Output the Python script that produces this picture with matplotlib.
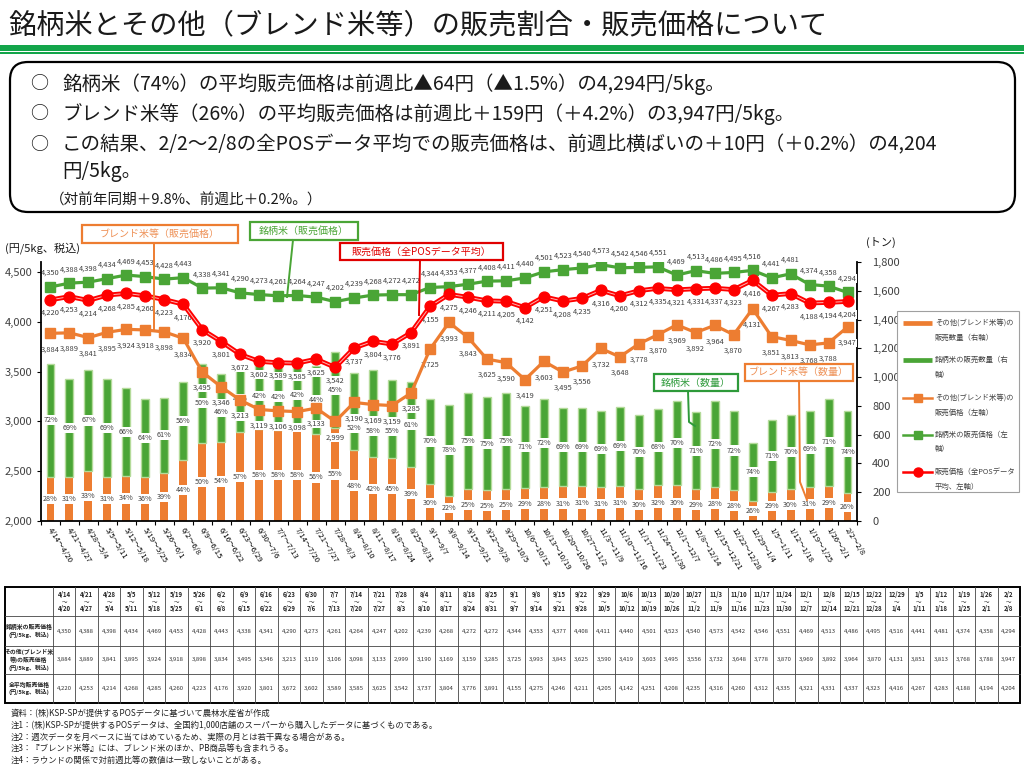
import numpy as np
import matplotlib
matplotlib.use('Agg')
import matplotlib.pyplot as plt
from matplotlib.patches import FancyBboxPatch, Rectangle
import matplotlib.transforms as mtransforms

plt.rcParams['font.family'] = ['Noto Sans CJK JP', 'DejaVu Sans']

# ---------------- data ----------------
week_start = ['4/14', '4/21', '4/28', '5/5', '5/12', '5/19', '5/26', '6/2', '6/9', '6/16', '6/23',
              '6/30', '7/7', '7/14', '7/21', '7/28', '8/4', '8/11', '8/18', '8/25', '9/1', '9/8',
              '9/15', '9/22', '9/29', '10/6', '10/13', '10/20', '10/27', '11/3', '11/10', '11/17',
              '11/24', '12/1', '12/8', '12/15', '12/22', '12/29', '1/5', '1/12', '1/19', '1/26', '2/2']
week_end = ['4/20', '4/27', '5/4', '5/11', '5/18', '5/25', '6/1', '6/8', '6/15', '6/22', '6/29',
            '7/6', '7/13', '7/20', '7/27', '8/3', '8/10', '8/17', '8/24', '8/31', '9/7', '9/14',
            '9/21', '9/28', '10/5', '10/12', '10/19', '10/26', '11/2', '11/9', '11/16', '11/23',
            '11/30', '12/7', '12/14', '12/21', '12/28', '1/4', '1/11', '1/18', '1/25', '2/1', '2/8']

brand_price = [4350, 4388, 4398, 4434, 4469, 4453, 4428, 4443, 4338, 4341, 4290, 4273, 4261, 4264,
               4247, 4202, 4239, 4268, 4272, 4272, 4344, 4353, 4377, 4408, 4411, 4440, 4501, 4523,
               4540, 4573, 4542, 4546, 4551, 4469, 4513, 4486, 4495, 4516, 4441, 4481, 4374, 4358, 4294]
blend_price = [3884, 3889, 3841, 3895, 3924, 3918, 3898, 3834, 3495, 3346, 3213, 3119, 3106, 3098,
               3133, 2999, 3190, 3169, 3159, 3285, 3725, 3993, 3843, 3625, 3590, 3419, 3603, 3495,
               3556, 3732, 3648, 3778, 3870, 3969, 3892, 3964, 3870, 4131, 3851, 3813, 3768, 3788, 3947]
all_price = [4220, 4253, 4214, 4268, 4285, 4260, 4223, 4176, 3920, 3801, 3672, 3602, 3589, 3585,
             3625, 3542, 3737, 3804, 3776, 3891, 4155, 4275, 4246, 4211, 4205, 4142, 4251, 4208,
             4235, 4316, 4260, 4312, 4335, 4321, 4331, 4337, 4323, 4416, 4267, 4283, 4188, 4194, 4204]

# sales volume (tons)
blend_vol = [306, 307, 347, 307, 313, 306, 334, 426, 545, 550, 616, 638, 635, 641, 605, 647, 493,
             442, 441, 376, 255, 177, 223, 215, 222, 231, 238, 243, 244, 238, 246, 221, 249, 251,
             219, 234, 214, 141, 204, 222, 237, 246, 198]
brand_vol = [787, 683, 704, 683, 608, 543, 522, 542, 545, 469, 464, 462, 460, 464, 475, 530, 534,
             610, 538, 589, 596, 628, 668, 645, 666, 566, 611, 540, 544, 529, 549, 516, 530, 584,
             537, 603, 551, 403, 501, 518, 526, 603, 565]
blend_share = [28, 31, 33, 31, 34, 36, 39, 44, 50, 54, 57, 58, 58, 58, 56, 55, 48, 42, 45, 39, 30,
               22, 25, 25, 25, 29, 28, 31, 31, 31, 31, 30, 32, 30, 29, 28, 28, 26, 29, 30, 31, 29, 26]
brand_share = [72, 69, 67, 69, 66, 64, 61, 56, 50, 46, 43, 42, 42, 42, 44, 45, 52, 58, 55, 61, 70,
               78, 75, 75, 75, 71, 72, 69, 69, 69, 69, 70, 68, 70, 71, 72, 72, 74, 71, 70, 69, 71, 74]

# ---------------- styles ----------------
GREEN = '#4AA536'
GREEN_EDGE = '#B4DB9A'
ORANGE = '#ED7D31'
RED = '#FF0000'
TXT = '#404040'

W, H = 1024, 768
fig = plt.figure(figsize=(W / 100, H / 100), dpi=100)
fig.patch.set_facecolor('white')


def fx(px):
    return px / W


def fy(py):
    return 1 - py / H


ax_l, ax_r, ax_t, ax_b = 41, 857, 262, 521
ax = fig.add_axes([fx(ax_l), fy(ax_b), (ax_r - ax_l) / W, (ax_b - ax_t) / H])
ax2 = ax.twinx()
ax.set_zorder(3)
ax.patch.set_visible(False)
ax2.set_zorder(2)

n = len(week_start)
x = np.arange(n)

# bars (right axis)
bw = 0.42
ax2.bar(x, blend_vol, width=bw, color=ORANGE, zorder=2)
ax2.bar(x, brand_vol, bottom=blend_vol, width=bw, color=GREEN, edgecolor=GREEN_EDGE,
        linewidth=1.0, zorder=2)
pct_texts = []
for i in range(n):
    t1 = ax2.text(x[i], blend_vol[i] / 2, f"{blend_share[i]}%", ha='center', va='center',
                  fontsize=5.2, color=TXT, zorder=4,
                  bbox=dict(boxstyle='square,pad=0.15', fc='white', ec='none'))
    t2 = ax2.text(x[i], blend_vol[i] + brand_vol[i] / 2, f"{brand_share[i]}%", ha='center',
                  va='center', fontsize=5.2, color=TXT, zorder=4,
                  bbox=dict(boxstyle='square,pad=0.15', fc='white', ec='none'))
    pct_texts += [t1, t2]
ax2.set_ylim(0, 1800)
ax2.set_yticks(range(0, 1801, 200))
ax2.set_yticklabels([f"{v:,}" for v in range(0, 1801, 200)])

# price lines (left axis)
lab_kw = dict(textcoords='offset points', ha='center', va='center', fontsize=5.4, color=TXT,
              zorder=2.5, bbox=dict(boxstyle='square,pad=0.05', fc='white', ec='none'))
ax.plot(x, brand_price, color=GREEN, lw=2.3, marker='s', ms=6.5, zorder=4)
ax.plot(x, blend_price, color=ORANGE, lw=2.3, marker='s', ms=6.5, zorder=4)
ax.plot(x, all_price, color=RED, lw=3.4, zorder=5)
ax.plot(x, all_price, color='#FFB3B3', lw=0.7, zorder=5.1)
ax.plot(x, all_price, color=RED, lw=0, marker='o', ms=7.8, zorder=5.2)
price_labels = []
for i in range(n):
    price_labels.append(ax.annotate(f"{brand_price[i]:,}", (x[i], brand_price[i]),
                                    xytext=(0, 10), **lab_kw))
    price_labels.append(ax.annotate(f"{all_price[i]:,}", (x[i], all_price[i]),
                                    xytext=(0, -9.5), **lab_kw))
    price_labels.append(ax.annotate(f"{blend_price[i]:,}", (x[i], blend_price[i]),
                                    xytext=(0, -11.5), **lab_kw))

ax.set_ylim(2000, 4600)
ax.set_yticks(range(2000, 4501, 500))
ax.set_yticklabels([f"{v:,}" for v in range(2000, 4501, 500)])
ax.set_xlim(-0.5, n - 0.5)
ax.set_xticks(np.arange(n + 1) - 0.5)
ax.set_xticklabels([])
ax.tick_params(axis='x', length=3, width=0.8, direction='out', color='black')
ax.tick_params(axis='y', length=3, width=0.8, labelsize=8, labelcolor=TXT, pad=3)
ax2.tick_params(axis='y', length=3, width=0.8, labelsize=8, labelcolor=TXT, pad=8)

for a in (ax, ax2):
    a.spines['top'].set_visible(False)
ax.spines['right'].set_visible(False)
ax2.spines['left'].set_visible(False)
ax2.spines['bottom'].set_visible(False)
ax.spines['left'].set_linewidth(1.3)
ax.spines['bottom'].set_linewidth(1.3)
ax2.spines['right'].set_linewidth(1.3)

# category labels
trans = mtransforms.blended_transform_factory(ax.transData, ax.transAxes)
for i in range(n):
    ax.text(x[i] - 0.05, -0.03, f"{week_start[i]}～{week_end[i]}", transform=trans,
            rotation=-58, rotation_mode='anchor', ha='left', va='center', fontsize=5.6,
            color='black', clip_on=False)

# nudge share labels downward where they collide with price labels (as in the reference)
fig.canvas.draw()
renderer = fig.canvas.get_renderer()
pboxes = [p.get_window_extent(renderer).expanded(1.05, 1.1) for p in price_labels]
px_per_ton = (ax_b - ax_t) / 1800.0
for t in pct_texts:
    for step in range(30):
        bb = t.get_window_extent(renderer).expanded(1.1, 1.15)
        if not any(bb.overlaps(pb) for pb in pboxes):
            break
        xx, yy = t.get_position()
        t.set_position((xx, yy - 1.0 / px_per_ton))

# ---------------- overlay (pixel coords) ----------------
ov = fig.add_axes([0, 0, 1, 1])
ov.set_xlim(0, W)
ov.set_ylim(H, 0)
ov.axis('off')
ov.set_zorder(10)
ov.patch.set_visible(False)

# title
ov.text(8, 25, '銘柄米とその他（ブレンド米等）の販売割合・販売価格について', fontsize=20.3,
        ha='left', va='center', color='#1a1a1a')
ov.add_patch(Rectangle((0, 45), W, 5.5, color='#13A54A', lw=0))
ov.add_patch(Rectangle((0, 52.3), W, 1.4, color='#13A54A', lw=0))

# summary box
ov.add_patch(FancyBboxPatch((10, 62), 1005, 150, boxstyle='round,pad=0,rounding_size=18',
                            fc='white', ec='black', lw=1.6))
bullets = [
    (84, '銘柄米（74%）の平均販売価格は前週比▲64円（▲1.5%）の4,294円/5kg。'),
    (114, 'ブレンド米等（26%）の平均販売価格は前週比＋159円（＋4.2%）の3,947円/5kg。'),
    (145, 'この結果、2/2～2/8の全POSデータ平均での販売価格は、前週比横ばいの＋10円（＋0.2%）の4,204'),
]
for yy, t in bullets:
    ov.text(30, yy, '○', fontsize=13, ha='left', va='center', color='#1a1a1a')
    ov.text(62, yy, t, fontsize=14.0, ha='left', va='center', color='#1a1a1a')
ov.text(62, 172, '円/5kg。', fontsize=14.0, ha='left', va='center', color='#1a1a1a')
ov.text(50, 200, '（対前年同期＋9.8%、前週比＋0.2%。）', fontsize=10.5, ha='left', va='center',
        color='#1a1a1a')

# axis titles
ov.text(5, 248, '(円/5kg、税込)', fontsize=8, ha='left', va='center', color='#1a1a1a')
ov.text(866, 242, '(トン)', fontsize=8, ha='left', va='center', color='#1a1a1a')


# callouts
def callout(x0, y0, x1, y1, text, ec, tc, line_pts):
    ov.add_patch(Rectangle((x0, y0), x1 - x0, y1 - y0, fc='white', ec=ec, lw=1.6))
    ov.text((x0 + x1) / 2, (y0 + y1) / 2, text, fontsize=7.2, ha='center', va='center', color=tc)
    xs, ys = zip(*line_pts)
    ov.plot(xs, ys, color=ec, lw=1.4)


callout(82, 225, 238, 243, 'ブレンド米等（販売価格）', ORANGE, '#EE9157', [(154, 243), (154, 331)])
callout(250, 222, 358, 240, '銘柄米（販売価格）', GREEN, GREEN, [(293, 240), (287, 297)])
callout(340, 243, 503, 260, '販売価格（全POSデータ平均）', '#E00000', '#E00000', [(420, 260), (419, 315)])
callout(654, 374, 738, 391, '銘柄米（数量）', '#2E9A3A', '#2E9A3A', [(688, 391), (689, 422), (695, 426)])
callout(745, 364, 853, 381, 'ブレンド米等（数量）', ORANGE, '#EE9157',
        [(799, 381), (800, 482), (807, 500)])

# legend
ov.add_patch(Rectangle((897, 311), 122, 181, fc='white', ec='#A0A0A0', lw=0.8))
leg = [
    (323, 'bar', ORANGE, ['その他(ブレンド米等)の', '販売数量（右軸）']),
    (360, 'bar', GREEN, ['銘柄米の販売数量（右', '軸）']),
    (398, 's', ORANGE, ['その他(ブレンド米等)の', '販売価格（左軸）']),
    (435, 's', GREEN, ['銘柄米の販売価格（左', '軸）']),
    (472, 'o', RED, ['販売価格（全POSデータ', '平均、左軸）']),
]
for yy, kind, c, lines in leg:
    if kind == 'bar':
        ov.plot([903, 932], [yy, yy], color=c, lw=3.4, solid_capstyle='butt')
    else:
        ov.plot([903, 932], [yy, yy], color=c, lw=1.8)
        ov.plot([917.5], [yy], color=c, marker=kind, ms=6 if kind == 's' else 6.5, lw=0)
    for k, t in enumerate(lines):
        ov.text(935, yy + k * 14.5, t, fontsize=5.3, ha='left', va='center', color=TXT)

# table
tx0, tx1 = 5, 1020
col0 = 53
cw = (tx1 - col0) / n
rows_y = [587, 616, 646, 674, 703]
for yy in rows_y[1:-1]:
    ov.plot([tx0, tx1], [yy, yy], color='#444444', lw=0.6)
for i in range(n):
    xx = col0 + i * cw
    ov.plot([xx, xx], [rows_y[0], rows_y[-1]], color='#444444', lw=0.6)
ov.add_patch(Rectangle((tx0, rows_y[0]), tx1 - tx0, rows_y[-1] - rows_y[0], fill=False,
                       ec='black', lw=1.4))
for i in range(n):
    cx = col0 + (i + 0.5) * cw
    ov.text(cx, 594.5, week_start[i], fontsize=4.3, ha='center', va='center', color='#222222',
            fontweight='bold')
    ov.text(cx, 601.5, '～', fontsize=4.0, ha='center', va='center', color='#222222')
    ov.text(cx, 609, week_end[i], fontsize=4.3, ha='center', va='center', color='#222222',
            fontweight='bold')
    for r, vals in enumerate([brand_price, blend_price, all_price]):
        ov.text(cx, (rows_y[r + 1] + rows_y[r + 2]) / 2, f"{vals[i]:,}", fontsize=4.3,
                ha='center', va='center', color='#333333')
row_labels = ['銘柄米の販売価格\n(円/5kg、税込)', 'その他(ブレンド米\n等)の販売価格\n(円/5kg、税込)',
              '全平均販売価格\n(円/5kg、税込)']
for r, t in enumerate(row_labels):
    ov.text((tx0 + col0) / 2, (rows_y[r + 1] + rows_y[r + 2]) / 2, t, fontsize=4.2, ha='center',
            va='center', color='#222222', fontweight='bold', linespacing=1.3)

# footnotes
notes = [
    '資料：(株)KSP-SPが提供するPOSデータに基づいて農林水産省が作成',
    '注1：(株)KSP-SPが提供するPOSデータは、全国約1,000店舗のスーパーから購入したデータに基づくものである。',
    '注2：週次データを月ベースに当てはめているため、実際の月とは若干異なる場合がある。',
    '注3：『ブレンド米等』には、ブレンド米のほか、PB商品等も含まれうる。',
    '注4：ラウンドの関係で対前週比等の数値は一致しないことがある。',
]
for k, t in enumerate(notes):
    ov.text(11, 714 + k * 11.5, t, fontsize=6.0, ha='left', va='center', color='#222222')

fig.savefig('out.png', dpi=100)
